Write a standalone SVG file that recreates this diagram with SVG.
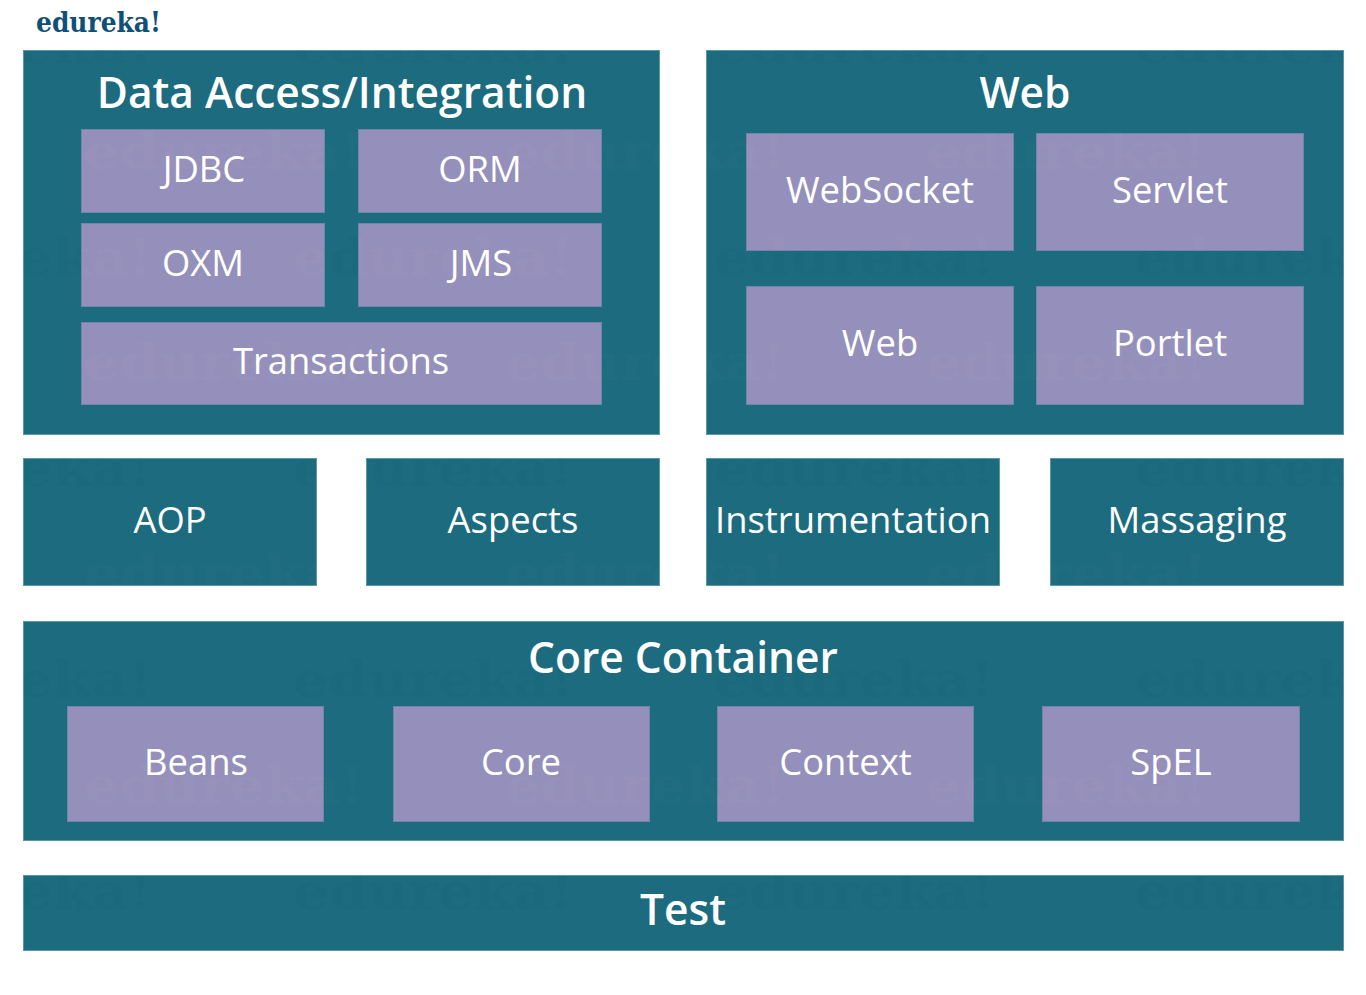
<svg xmlns="http://www.w3.org/2000/svg" width="1366" height="995" viewBox="0 0 1366 995">
<style>
.b{fill:#1c6b7e;stroke:#5b97a6;stroke-width:1}
.p{fill:#958fbb;stroke:#6f86a8;stroke-width:1}
text{font-family:"Open Sans","Noto Sans",sans-serif;fill:#fff;text-anchor:middle}
.h{font-size:42.5px;font-weight:600}
.t{font-size:36.4px}
.logo{font-family:"DejaVu Serif",serif;font-weight:bold;font-size:27px;text-anchor:start;fill:#0f5079}
.m{font-family:"DejaVu Serif",serif;font-weight:bold;font-size:50px;text-anchor:start;fill:inherit}
.wd{fill:#000;fill-opacity:.014}
.wl{fill:#fff;fill-opacity:.02}
</style>
<defs>
<clipPath id="ct">
<rect x="23" y="50" width="637" height="384"/><rect x="706" y="50" width="638" height="384"/>
<rect x="23" y="458" width="293" height="127"/><rect x="366" y="458" width="294" height="127"/><rect x="706" y="458" width="294" height="127"/><rect x="1050" y="458" width="294" height="127"/>
<rect x="23" y="621" width="1321" height="220"/><rect x="23" y="875" width="1321" height="75"/>
</clipPath>
<clipPath id="cp">
<rect x="81" y="129" width="244" height="84"/><rect x="358" y="129" width="244" height="84"/><rect x="81" y="223" width="244" height="84"/><rect x="358" y="223" width="244" height="84"/><rect x="81" y="322" width="521" height="83"/>
<rect x="746" y="133" width="268" height="118"/><rect x="1036" y="133" width="268" height="118"/><rect x="746" y="286" width="268" height="118"/><rect x="1036" y="286" width="268" height="118"/>
<rect x="67" y="706" width="257" height="116"/><rect x="393" y="706" width="257" height="116"/><rect x="717" y="706" width="257" height="116"/><rect x="1042" y="706" width="258" height="116"/>
</clipPath>
<g id="ra">
<text class="m" x="-128" textLength="281" lengthAdjust="spacingAndGlyphs">edureka!</text><text class="m" x="293" textLength="281" lengthAdjust="spacingAndGlyphs">edureka!</text><text class="m" x="714" textLength="281" lengthAdjust="spacingAndGlyphs">edureka!</text><text class="m" x="1135" textLength="281" lengthAdjust="spacingAndGlyphs">edureka!</text>
</g>
<g id="rb">
<text class="m" x="84" textLength="281" lengthAdjust="spacingAndGlyphs">edureka!</text><text class="m" x="505" textLength="281" lengthAdjust="spacingAndGlyphs">edureka!</text><text class="m" x="926" textLength="281" lengthAdjust="spacingAndGlyphs">edureka!</text>
</g>
</defs>
<rect width="1366" height="995" fill="#fff"/>
<text class="logo" x="36" y="32" textLength="125" lengthAdjust="spacingAndGlyphs">edureka!</text>
<g id="data-access"><rect class="b" x="23.5" y="50.5" width="636" height="384"/><text class="h" x="342" y="108">Data Access/Integration</text></g>
<g id="web"><rect class="b" x="706.5" y="50.5" width="637" height="384"/><text class="h" x="1025" y="108">Web</text></g>
<g id="aop"><rect class="b" x="23.5" y="458.5" width="293" height="127"/><text class="t" x="170" y="533">AOP</text></g>
<g id="aspects"><rect class="b" x="366.5" y="458.5" width="293" height="127"/><text class="t" x="513" y="533">Aspects</text></g>
<g id="instrumentation"><rect class="b" x="706.5" y="458.5" width="293" height="127"/><text class="t" x="853" y="533">Instrumentation</text></g>
<g id="massaging"><rect class="b" x="1050.5" y="458.5" width="293" height="127"/><text class="t" x="1197" y="533">Massaging</text></g>
<g id="core-container"><rect class="b" x="23.5" y="621.5" width="1320" height="219"/><text class="h" x="683" y="673">Core Container</text></g>
<g id="test"><rect class="b" x="23.5" y="875.5" width="1320" height="75"/><text class="h" x="683" y="925">Test</text></g>
<g id="watermark-teal" clip-path="url(#ct)">
<g class="wd"><use href="#ra" y="63"/><use href="#ra" y="275"/><use href="#ra" y="486"/><use href="#ra" y="697"/><use href="#ra" y="909"/></g>
<g class="wl"><use href="#rb" y="169"/><use href="#rb" y="380"/><use href="#rb" y="591"/><use href="#rb" y="803"/></g>
</g>
<g id="jdbc"><rect class="p" x="81.5" y="129.5" width="243" height="83"/><text class="t" x="204" y="182">JDBC</text></g>
<g id="orm"><rect class="p" x="358.5" y="129.5" width="243" height="83"/><text class="t" x="480" y="182">ORM</text></g>
<g id="oxm"><rect class="p" x="81.5" y="223.5" width="243" height="83"/><text class="t" x="203" y="276">OXM</text></g>
<g id="jms"><rect class="p" x="358.5" y="223.5" width="243" height="83"/><text class="t" x="481" y="276">JMS</text></g>
<g id="transactions"><rect class="p" x="81.5" y="322.5" width="520" height="82"/><text class="t" x="341" y="374">Transactions</text></g>
<g id="websocket"><rect class="p" x="746.5" y="133.5" width="267" height="117"/><text class="t" x="880" y="203">WebSocket</text></g>
<g id="servlet"><rect class="p" x="1036.5" y="133.5" width="267" height="117"/><text class="t" x="1170" y="203">Servlet</text></g>
<g id="web-inner"><rect class="p" x="746.5" y="286.5" width="267" height="118"/><text class="t" x="880" y="356">Web</text></g>
<g id="portlet"><rect class="p" x="1036.5" y="286.5" width="267" height="118"/><text class="t" x="1170" y="356">Portlet</text></g>
<g id="beans"><rect class="p" x="67.5" y="706.5" width="256" height="115"/><text class="t" x="196" y="775">Beans</text></g>
<g id="core"><rect class="p" x="393.5" y="706.5" width="256" height="115"/><text class="t" x="521" y="775">Core</text></g>
<g id="context"><rect class="p" x="717.5" y="706.5" width="256" height="115"/><text class="t" x="845.5" y="775">Context</text></g>
<g id="spel"><rect class="p" x="1042.5" y="706.5" width="257" height="115"/><text class="t" x="1171" y="775">SpEL</text></g>
<g id="watermark-purple" class="wl" clip-path="url(#cp)">
<use href="#ra" y="63"/><use href="#ra" y="275"/><use href="#ra" y="486"/><use href="#ra" y="697"/><use href="#ra" y="909"/>
<use href="#rb" y="169"/><use href="#rb" y="380"/><use href="#rb" y="591"/><use href="#rb" y="803"/>
</g>
</svg>
